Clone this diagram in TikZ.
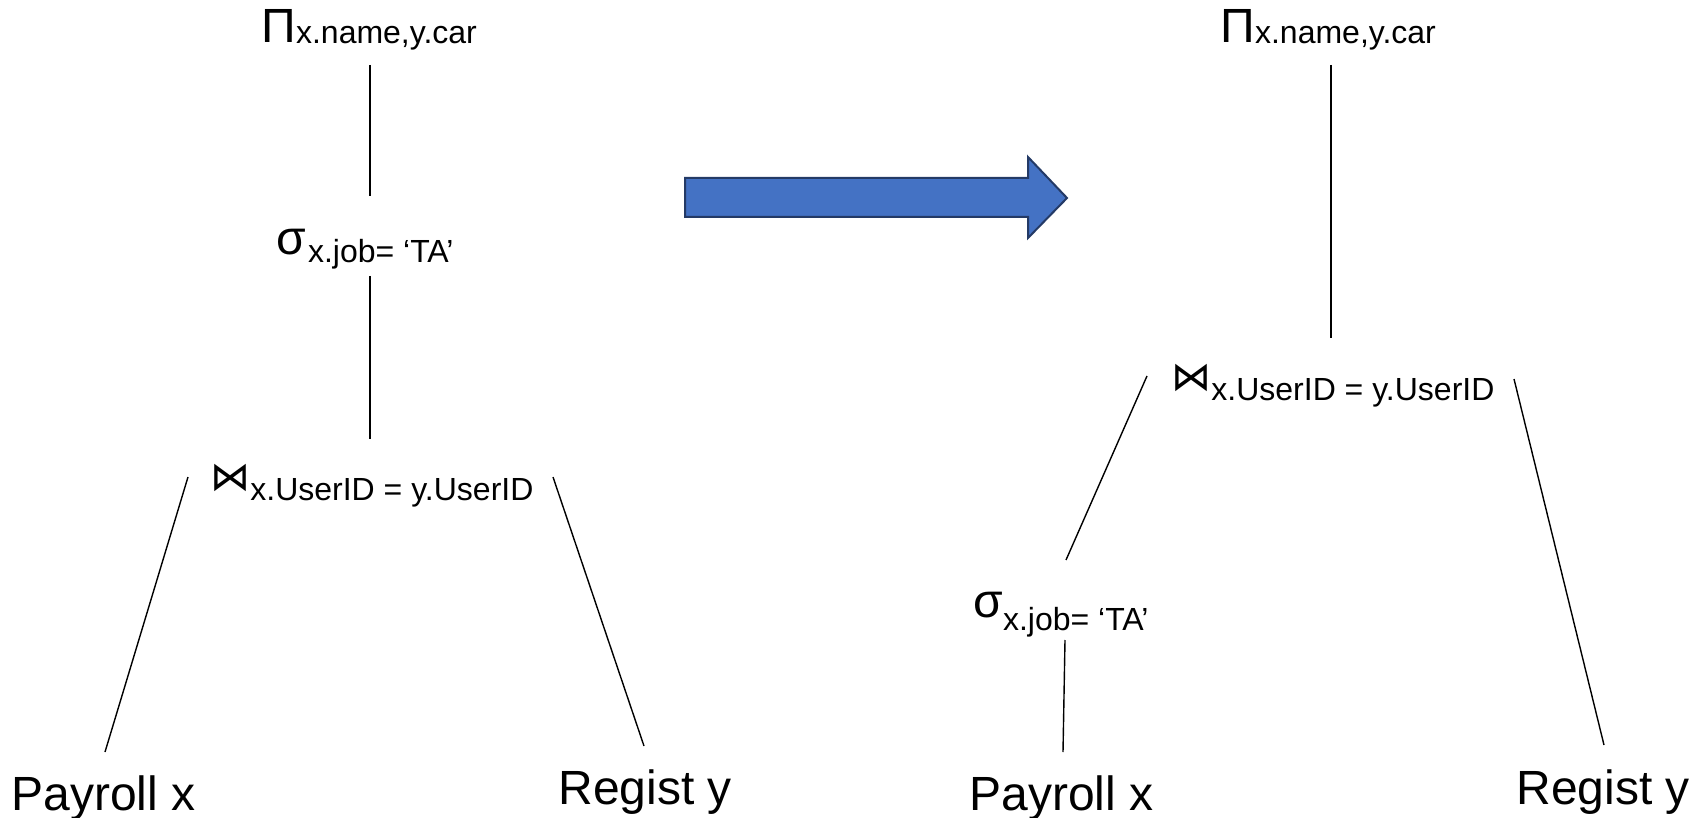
\documentclass[tikz,border=0pt]{standalone}
\usepackage{fontspec}
\setmainfont{Liberation Sans}
\newfontfamily\symfont{DejaVu Sans}
\newcommand\bigtxt{\fontsize{24pt}{28pt}\selectfont}
\newcommand\subtxt{\fontsize{16pt}{19pt}\selectfont}
\newcommand\joinsym{{\symfont\fontsize{20pt}{24pt}\selectfont ⋈}}
\definecolor{arrowblue}{HTML}{4472C4}
\definecolor{arrowedge}{HTML}{243A66}
\begin{document}
\begin{tikzpicture}[x=0.5pt,y=-0.5pt,
  opnode/.style={inner sep=0pt, anchor=base west, font=\bigtxt},
  edge/.style={line width=0.7pt, black},
  bigarrow/.style={fill=arrowblue, draw=arrowedge, line width=1pt, line join=miter}]
\useasboundingbox (0,0) rectangle (1708,818);

% ---------- original plan ----------
\node[opnode] (proj1) at (261,43) {Π\raisebox{-0.5pt}{\subtxt x.name,y.car}};
\node[opnode] (sel1)  at (276,255) {σ\hspace{1pt}\raisebox{-4pt}{\subtxt x.job= ‘TA’}};
\node[opnode] (join1) at (210,490) {\joinsym\raisebox{-5pt}{\subtxt x.UserID = y.UserID}};
\node[opnode] (pay1)  at (11,810)  {Payroll x};
\node[opnode] (reg1)  at (558,804) {Regist y};

\coordinate (proj1-s) at (370,65);   \coordinate (sel1-n)  at (370,196);
\coordinate (sel1-s)  at (370,276);  \coordinate (join1-n) at (370,439);
\coordinate (join1-l) at (188,477);  \coordinate (pay1-n)  at (105,752);
\coordinate (join1-r) at (553,477);  \coordinate (reg1-n)  at (644,746);

\draw[edge] (proj1-s) -- (sel1-n);
\draw[edge] (sel1-s) -- (join1-n);
\draw[edge] (join1-l) -- (pay1-n);
\draw[edge] (join1-r) -- (reg1-n);

% ---------- rewrite arrow ----------
\path[bigarrow] (685,178) -- (1028,178) -- (1028,157) -- (1067,198)
  -- (1028,238) -- (1028,217) -- (685,217) -- cycle;

% ---------- selection pushed down ----------
\node[opnode] (proj2) at (1220,43)  {Π\raisebox{-0.5pt}{\subtxt x.name,y.car}};
\node[opnode] (join2) at (1171,390) {\joinsym\raisebox{-5.5pt}{\subtxt x.UserID = y.UserID}};
\node[opnode] (sel2)  at (973,617)  {σ\raisebox{-6.5pt}{\subtxt x.job= ‘TA’}};
\node[opnode] (pay2)  at (969,810)  {Payroll x};
\node[opnode] (reg2)  at (1516,804) {Regist y};

\coordinate (proj2-s) at (1331,65);  \coordinate (join2-n) at (1331,338);
\coordinate (join2-l) at (1147,376); \coordinate (sel2-n)  at (1066,560);
\coordinate (sel2-s)  at (1065,640); \coordinate (pay2-n)  at (1063,752);
\coordinate (join2-r) at (1514,379); \coordinate (reg2-n)  at (1604,745);

\draw[edge] (proj2-s) -- (join2-n);
\draw[edge] (join2-l) -- (sel2-n);
\draw[edge] (sel2-s) -- (pay2-n);
\draw[edge] (join2-r) -- (reg2-n);
\end{tikzpicture}
\end{document}
